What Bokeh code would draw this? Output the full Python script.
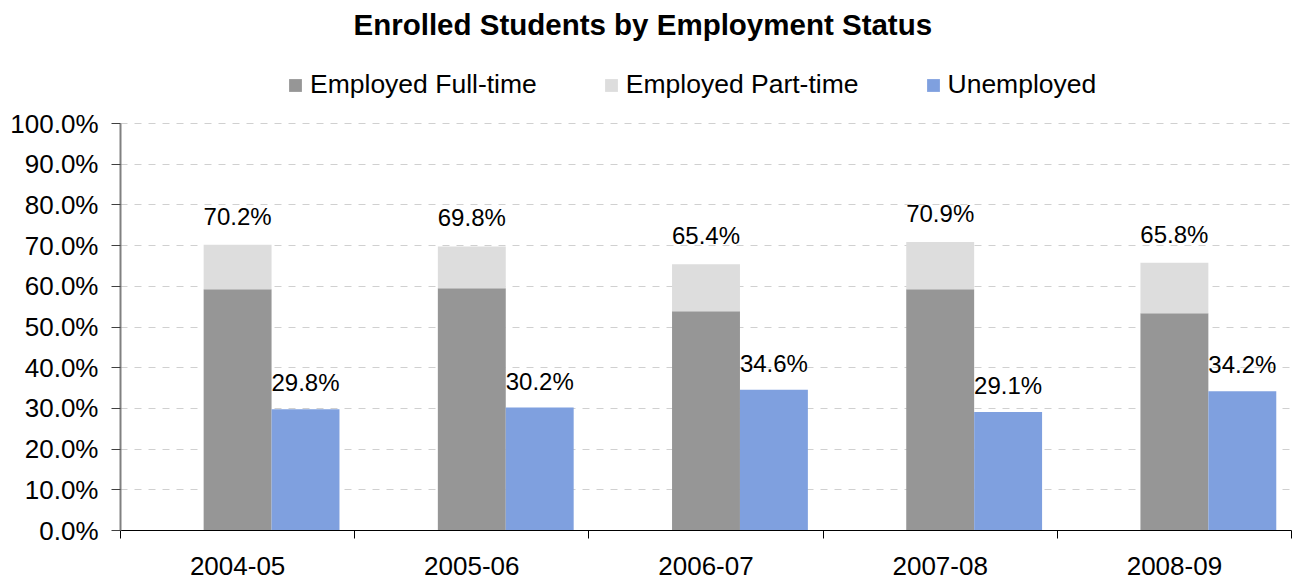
from bokeh.plotting import figure
from bokeh.models import (Range1d, FixedTicker, PrintfTickFormatter, Legend, LegendItem,
                          ColumnDataSource, LabelSet, Label)
from bokeh.core.properties import value
from bokeh.embed import file_html
from bokeh.resources import INLINE

title = "Enrolled Students by Employment Status"
years = ["2004-05", "2005-06", "2006-07", "2007-08", "2008-09"]
full_time = [59.3, 59.5, 53.9, 59.3, 53.4]
part_time = [10.9, 10.3, 11.5, 11.6, 12.4]
unemployed = [29.8, 30.2, 34.6, 29.1, 34.2]
employed_total = [70.2, 69.8, 65.4, 70.9, 65.8]
y_ticks = [0, 10, 20, 30, 40, 50, 60, 70, 80, 90, 100]

FONT = "Liberation Sans"
C_FT = "#969696"
C_PT = "#dddddd"
C_UN = "#7fa0df"

# layout (pixels)
W, H = 1295, 582
FRAME_LEFT, FRAME_RIGHT = 120, 1291
FRAME_TOP, FRAME_BOTTOM = 0, 530
Y100_PX = 123  # where 100% sits
y_max = 100 * (FRAME_BOTTOM - FRAME_TOP) / (FRAME_BOTTOM - Y100_PX)

idx = list(range(len(years)))
bar_w = 0.29
x_emp = [i + 0.5 for i in idx]
x_un = [i + 0.5 + bar_w for i in idx]
pt_top = [f + p for f, p in zip(full_time, part_time)]

src = ColumnDataSource(dict(
    x_emp=x_emp, x_un=x_un, ft=full_time, pt=pt_top, un=unemployed,
    emp_lbl=[f"{v:.1f}%" for v in employed_total],
    un_lbl=[f"{v:.1f}%" for v in unemployed],
))

p = figure(width=W, height=H, x_range=Range1d(0, len(years)), y_range=Range1d(0, y_max),
           output_backend="svg", toolbar_location=None, title=None,
           min_border_left=FRAME_LEFT, min_border_right=W - FRAME_RIGHT,
           min_border_bottom=H - FRAME_BOTTOM, min_border_top=FRAME_TOP)

# title (screen units relative to the frame's bottom-left corner)
p.add_layout(Label(text=title, x=233, y=FRAME_BOTTOM - 24, x_units="screen", y_units="screen",
                   text_align="left", text_baseline="alphabetic", text_font=FONT,
                   text_font_size="29.5px", text_font_style="bold", text_color="black"))

r_ft = p.vbar(x="x_emp", bottom=0, top="ft", width=bar_w, fill_color=C_FT, line_color=None, source=src)
r_pt = p.vbar(x="x_emp", bottom="ft", top="pt", width=bar_w, fill_color=C_PT, line_color=None, source=src)
r_un = p.vbar(x="x_un", bottom=0, top="un", width=bar_w, fill_color=C_UN, line_color=None, source=src)

p.add_layout(LabelSet(x="x_emp", y="pt", text="emp_lbl", source=src, text_align="center",
                      text_baseline="alphabetic", y_offset=20, text_font=value(FONT),
                      text_font_size=value("24px"), text_color="black"))
p.add_layout(LabelSet(x="x_un", y="un", text="un_lbl", source=src, text_align="center",
                      text_baseline="alphabetic", y_offset=18, text_font=value(FONT),
                      text_font_size=value("24px"), text_color="black"))

legend = Legend(items=[LegendItem(label="Employed Full-time", renderers=[r_ft]),
                       LegendItem(label="Employed Part-time", renderers=[r_pt]),
                       LegendItem(label="Unemployed", renderers=[r_un])],
                orientation="horizontal", location=(167, 430),
                glyph_width=16, glyph_height=16, label_standoff=7, spacing=66,
                label_text_font=FONT, label_text_font_size="26.5px", label_text_color="black",
                border_line_color=None, background_fill_alpha=0, padding=0, margin=0)
p.add_layout(legend)

# x axis
p.xaxis.ticker = FixedTicker(ticks=x_emp, minor_ticks=list(range(len(years) + 1)))
p.xaxis.major_label_overrides = {x: y for x, y in zip(x_emp, years)}
p.xaxis.major_tick_out = 0
p.xaxis.major_tick_in = 0
p.xaxis.minor_tick_out = 8
p.xaxis.minor_tick_in = 0
p.xaxis.minor_tick_line_color = "black"
p.xaxis.axis_line_color = "black"
p.xaxis.major_label_standoff = 18
p.xaxis.major_label_text_font = FONT
p.xaxis.major_label_text_font_size = "26px"
p.xaxis.major_label_text_color = "black"

# y axis
p.yaxis.ticker = FixedTicker(ticks=y_ticks, minor_ticks=[])
p.yaxis.bounds = (0, 100)
p.yaxis.formatter = PrintfTickFormatter(format="%.1f%%")
p.yaxis.axis_line_color = "#808080"
p.yaxis.axis_line_width = 2
p.yaxis.major_tick_out = 9
p.yaxis.major_tick_in = 0
p.yaxis.major_tick_line_color = "#404040"
p.yaxis.major_label_standoff = 13
p.yaxis.major_label_text_font = FONT
p.yaxis.major_label_text_font_size = "26px"
p.yaxis.major_label_text_color = "black"

p.xgrid.visible = False
p.ygrid.grid_line_color = "#d0d0d0"
p.ygrid.grid_line_dash = "7 7"
p.outline_line_color = None

open("out.html", "w").write(file_html(p, INLINE))
